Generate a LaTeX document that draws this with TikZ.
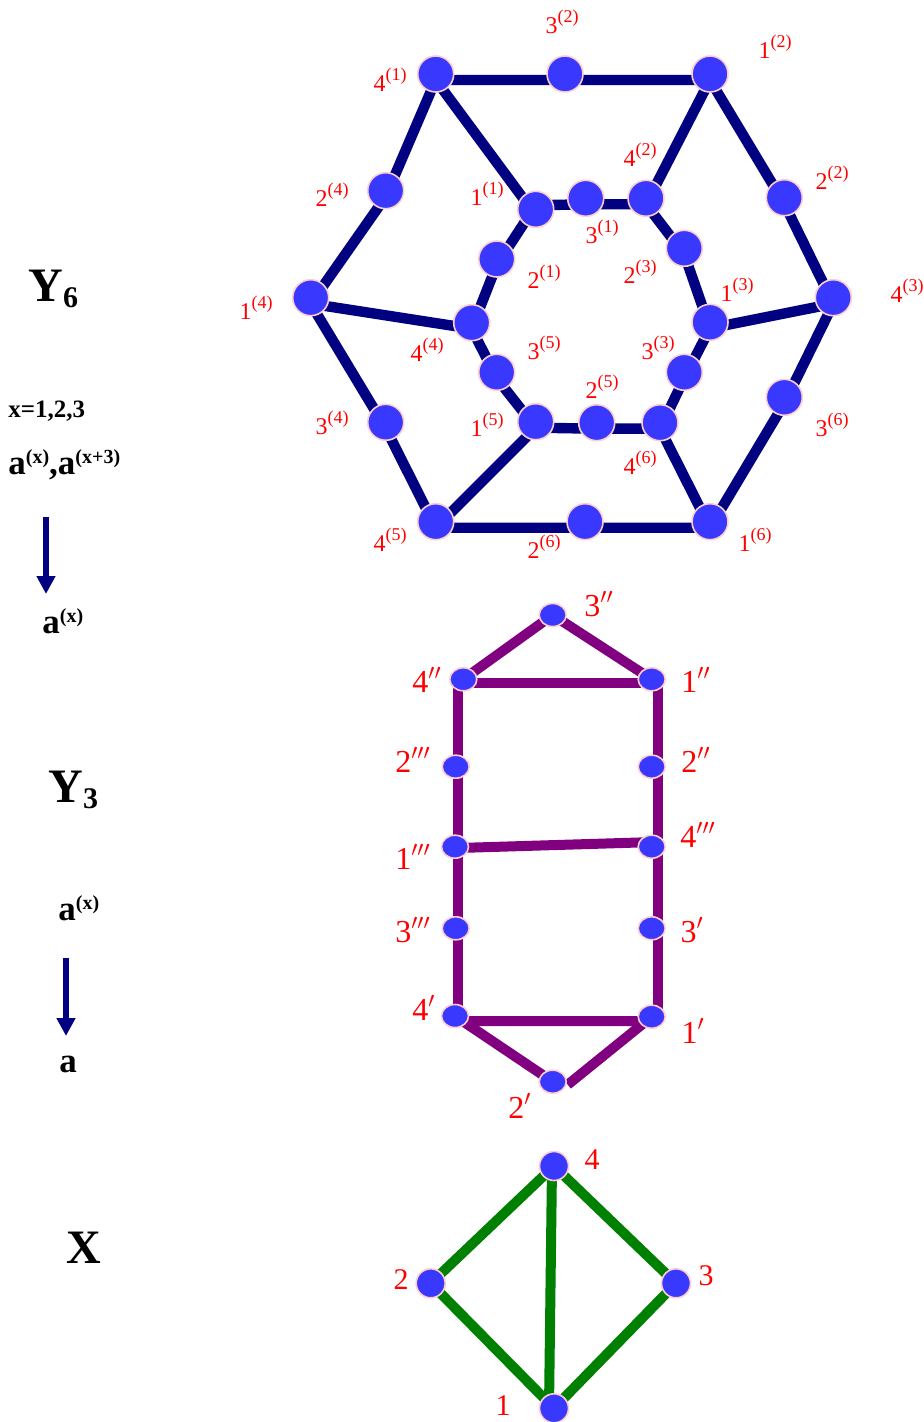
\documentclass[tikz,border=0pt]{standalone}
\usepackage{fontspec}
\setmainfont{Liberation Serif}
\usetikzlibrary{arrows.meta,shapes.geometric,backgrounds}
\definecolor{nodeblue}{RGB}{56,56,255}
\definecolor{ringpink}{RGB}{255,205,205}
\definecolor{navyc}{RGB}{0,0,128}
\definecolor{purplec}{RGB}{128,0,128}
\definecolor{greenc}{RGB}{0,128,0}
\newcommand{\supl}[2]{#1\raisebox{5.5pt}{\fontsize{9}{9}\selectfont(#2)}}
\newcommand{\bsup}[2]{#1\raisebox{5.5pt}{\fontsize{10}{10}\selectfont\bfseries(#2)}}
\tikzset{
  dot/.style={circle, fill=nodeblue, draw=ringpink, line width=0.8pt, minimum size=18pt, inner sep=0pt},
  ydot/.style={ellipse, fill=nodeblue, draw=ringpink, line width=0.8pt, minimum width=13.5pt, minimum height=11.5pt, inner sep=0pt},
  xdot/.style={circle, fill=nodeblue, draw=ringpink, line width=0.8pt, minimum size=14.5pt, inner sep=0pt},
  lab6/.style={text=red, font=\fontsize{12}{12}\selectfont, inner sep=0pt},
  lab3/.style={text=red, font=\fontsize{16}{16}\selectfont, inner sep=0pt},
  labx/.style={text=red, font=\fontsize{15}{15}\selectfont, inner sep=0pt},
  side/.style={text=black, inner sep=0pt, anchor=base west},
  e6/.style={draw=navyc, line width=5.2pt, line join=round},
  e3/.style={draw=purplec, line width=5pt, line join=round},
  ex/.style={draw=greenc, line width=5pt, line join=round},
  down/.style={draw=navyc, line width=3pt, -{Triangle[width=9pt,length=9pt]}}
}
\begin{document}
\begin{tikzpicture}[x=0.5pt,y=-0.5pt]
\useasboundingbox (0,0) rectangle (924,1422);

% ---------- left texts ----------
\node[side, font=\fontsize{24}{24}\selectfont\bfseries] (ty6) at (28,302) {Y\raisebox{-3pt}{\fontsize{15}{15}\selectfont 6}};
\node[side, font=\fontsize{12.5}{12.5}\selectfont\bfseries] (tx) at (8,418) {x=1,2,3};
\node[side, font=\fontsize{17.5}{17.5}\selectfont\bfseries] (ta1) at (8,474) {\bsup{a}{x},\bsup{a}{x+3}};
\node[side, font=\fontsize{17.5}{17.5}\selectfont\bfseries] (ta2) at (42,633) {\bsup{a}{x}};
\coordinate (ar1s) at (46,517);
\coordinate (ar1e) at (46,594);
\draw[down] (ar1s) -- (ar1e);

\node[side, font=\fontsize{24}{24}\selectfont\bfseries] (ty3) at (48,802) {Y\raisebox{-3pt}{\fontsize{15}{15}\selectfont 3}};
\node[side, font=\fontsize{17.5}{17.5}\selectfont\bfseries] (ta3) at (58,920) {\bsup{a}{x}};
\node[side, font=\fontsize{17.5}{17.5}\selectfont\bfseries] (ta4) at (59,1072) {a};
\coordinate (ar2s) at (66,958);
\coordinate (ar2e) at (66,1036);
\draw[down] (ar2s) -- (ar2e);

\node[side, font=\fontsize{24}{24}\selectfont\bfseries] (tX) at (66,1263) {X};

% ---------- Y6 nodes ----------
\node[dot] (n41) at (435.7,74) {};
\node[dot] (n32) at (565,74) {};
\node[dot] (n12) at (710,74) {};
\node[dot] (n22) at (784.3,197.7) {};
\node[dot] (n43) at (833.3,297.7) {};
\node[dot] (n36) at (784.3,397.3) {};
\node[dot] (n16) at (710,521.7) {};
\node[dot] (n26) at (585,521.7) {};
\node[dot] (n45) at (435.7,521.7) {};
\node[dot] (n34) at (385.7,422.3) {};
\node[dot] (n14) at (310.7,297.7) {};
\node[dot] (n24) at (385.7,190.7) {};
\node[dot] (n11) at (535.7,209.3) {};
\node[dot] (n31) at (585.7,198.3) {};
\node[dot] (n42) at (646,198.3) {};
\node[dot] (n23) at (684.3,248.3) {};
\node[dot] (n13) at (710,322.3) {};
\node[dot] (n33) at (684.3,372.3) {};
\node[dot] (n46) at (660,422.7) {};
\node[dot] (n25) at (596.7,422.7) {};
\node[dot] (n15) at (535.7,421.7) {};
\node[dot] (n35) at (496.7,372.3) {};
\node[dot] (n44) at (471.7,322.7) {};
\node[dot] (n21) at (496.7,259) {};

\begin{pgfonlayer}{background}
\draw[e6] ([yshift=-3pt]n41.center) -- ([yshift=-3pt]n32.center) -- ([yshift=-3pt]n12.center)
  -- ([yshift=-3pt]n22.center) -- ([yshift=-3pt]n43.center) -- ([yshift=-3pt]n36.center)
  -- ([yshift=-3pt]n16.center) -- ([yshift=-3pt]n26.center) -- ([yshift=-3pt]n45.center)
  -- ([yshift=-3pt]n34.center) -- ([yshift=-3pt]n14.center) -- ([yshift=-3pt]n24.center)
  -- ([yshift=-3pt]n41.center);
\draw[e6] ([yshift=-3pt]n41.center) -- ([yshift=-3pt]n11.center);
\draw[e6] ([yshift=-3pt]n12.center) -- ([yshift=-3pt]n42.center);
\draw[e6] ([yshift=-3pt]n43.center) -- ([yshift=-3pt]n13.center);
\draw[e6] ([yshift=-3pt]n16.center) -- ([yshift=-3pt]n46.center);
\draw[e6] ([yshift=-3pt]n45.center) -- ([yshift=-3pt]n15.center);
\draw[e6] ([yshift=-3pt]n14.center) -- ([yshift=-3pt]n44.center);
\draw[e6] ([yshift=2pt]n11.center) -- ([yshift=-3pt]n31.center) -- ([yshift=-3pt]n42.center)
  -- ([yshift=-3pt]n23.center) -- ([yshift=-3pt]n13.center) -- ([yshift=-3pt]n33.center)
  -- ([yshift=-3pt]n46.center) -- ([yshift=-3pt]n25.center) -- ([yshift=-3pt]n15.center)
  -- ([yshift=-3pt]n35.center) -- ([yshift=-3pt]n44.center) -- ([yshift=-3pt]n21.center)
  -- ([yshift=2pt]n11.center);
\end{pgfonlayer}

% ---------- Y6 labels ----------
\node[lab6] (l41) at (390,80) {\supl{4}{1}};
\node[lab6] (l32) at (562,22) {\supl{3}{2}};
\node[lab6] (l12) at (775,47) {\supl{1}{2}};
\node[lab6] (l22) at (832,178) {\supl{2}{2}};
\node[lab6] (l43) at (907,291) {\supl{4}{3}};
\node[lab6] (l36) at (832,425) {\supl{3}{6}};
\node[lab6] (l16) at (755,540) {\supl{1}{6}};
\node[lab6] (l26) at (544,547) {\supl{2}{6}};
\node[lab6] (l45) at (390,540) {\supl{4}{5}};
\node[lab6] (l34) at (332,423) {\supl{3}{4}};
\node[lab6] (l14) at (256,308) {\supl{1}{4}};
\node[lab6] (l24) at (332,195) {\supl{2}{4}};
\node[lab6] (l11) at (487,194) {\supl{1}{1}};
\node[lab6] (l31) at (602,232) {\supl{3}{1}};
\node[lab6] (l42) at (640,155) {\supl{4}{2}};
\node[lab6] (l21) at (544,277) {\supl{2}{1}};
\node[lab6] (l23) at (640,272) {\supl{2}{3}};
\node[lab6] (l13) at (737,290) {\supl{1}{3}};
\node[lab6] (l33) at (658,348) {\supl{3}{3}};
\node[lab6] (l35) at (544,348) {\supl{3}{5}};
\node[lab6] (l44) at (427,350) {\supl{4}{4}};
\node[lab6] (l25) at (602,387) {\supl{2}{5}};
\node[lab6] (l15) at (487,425) {\supl{1}{5}};
\node[lab6] (l46) at (640,463) {\supl{4}{6}};

% ---------- Y3 nodes ----------
\node[ydot] (a3pp) at (552.7,615) {};
\node[ydot] (a4pp) at (463.3,679.3) {};
\node[ydot] (a1pp) at (651.7,679.3) {};
\node[ydot] (a2ppp) at (455.7,766.7) {};
\node[ydot] (a2pp) at (651.7,766.7) {};
\node[ydot] (a1ppp) at (455,846.7) {};
\node[ydot] (a4ppp) at (651.7,846.7) {};
\node[ydot] (a3ppp) at (455.7,928.3) {};
\node[ydot] (a3p) at (651.7,928.3) {};
\node[ydot] (a4p) at (455,1016) {};
\node[ydot] (a1p) at (651.7,1016.7) {};
\node[ydot] (a2p) at (552.7,1081.7) {};

\begin{pgfonlayer}{background}
\draw[e3] ([xshift=1.5pt]a4p.center) -- ([xshift=1.5pt]a4p.center |- a4pp.center);
\draw[e3] ([xshift=3pt]a1p.center) -- ([xshift=3pt]a1pp.center);
\draw[e3] ([yshift=-1.7pt]a4pp.center) -- ([yshift=-1.7pt]a1pp.center);
\draw[e3] (a4pp.center) -- (a3pp.center) -- (a1pp.center);
\draw[e3] ([yshift=-0.7pt]a1ppp.center) -- ([yshift=2.3pt]a4ppp.center);
\draw[e3] ([yshift=-2.5pt]a4p.center) -- ([yshift=-2.2pt]a1p.center);
\draw[e3] (a4p.center) -- (a2p.center);
\draw[e3] (a1p.center) -- ([xshift=7.5pt,yshift=-1.5pt]a2p.center);
\end{pgfonlayer}

% ---------- Y3 labels ----------
\node[lab3] (b3pp) at (599,604) {3$''$};
\node[lab3] (b4pp) at (427,680) {4$''$};
\node[lab3] (b1pp) at (696,680) {1$''$};
\node[lab3] (b2ppp) at (413,760) {2$'''$};
\node[lab3] (b2pp) at (696,760) {2$''$};
\node[lab3] (b1ppp) at (413,857) {1$'''$};
\node[lab3] (b4ppp) at (698,835) {4$'''$};
\node[lab3] (b3ppp) at (413,930) {3$'''$};
\node[lab3] (b3p) at (692,930) {3$'$};
\node[lab3] (b4p) at (424,1008) {4$'$};
\node[lab3] (b1p) at (693,1031) {1$'$};
\node[lab3] (b2p) at (520,1106) {2$'$};

% ---------- X ----------
\node[xdot] (x4) at (554,1166) {};
\node[xdot] (x2) at (430.7,1283.3) {};
\node[xdot] (x3) at (676,1283.3) {};
\node[xdot] (x1) at (554,1408.3) {};
\begin{pgfonlayer}{background}
\draw[ex] (x4.center) -- (x2.center) -- (x1.center) -- (x3.center) -- (x4.center);
\draw[ex] ([xshift=-1pt]x4.center) -- ([xshift=-2.5pt]x1.center);
\end{pgfonlayer}
\node[labx] (y4) at (592,1160) {4};
\node[labx] (y2) at (401,1280) {2};
\node[labx] (y3) at (706,1276) {3};
\node[labx] (y1) at (503,1406) {1};
\end{tikzpicture}
\end{document}
